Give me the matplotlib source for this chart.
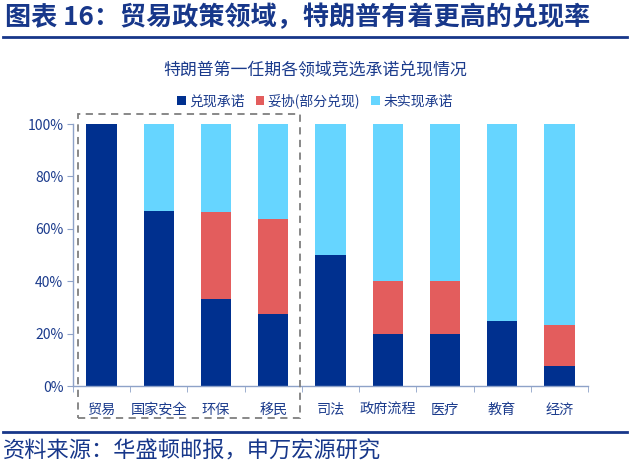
import matplotlib.pyplot as plt
from matplotlib.patches import Rectangle
from matplotlib.lines import Line2D
from matplotlib.ticker import FixedLocator, PercentFormatter
import numpy as np

plt.rcParams['font.family'] = ['Noto Sans CJK SC', 'DejaVu Sans']

categories = ['贸易', '国家安全', '环保', '移民', '司法', '政府流程', '医疗', '教育', '经济']
fulfilled = [100, 66.7, 33.3, 27.3, 50, 20, 20, 25, 7.7]
compromise = [0, 0, 33.3, 36.4, 0, 20, 20, 0, 15.4]
unfulfilled = [0, 33.3, 33.4, 36.3, 50, 60, 60, 75, 76.9]
series_names = ['兑现承诺', '妥协(部分兑现)', '未实现承诺']

navy = '#1B3B8C'
colors = ['#00308F', '#E35D5D', '#66D5FF']
axis_col = '#8EA2C8'

fig = plt.figure(figsize=(6.3, 4.65), dpi=100)
ax = fig.add_axes([73/630, 79/465, 515/630, 262/465])

x = np.arange(len(categories))
f = np.array(fulfilled) / 100
c = np.array(compromise) / 100
u = np.array(unfulfilled) / 100
w = 0.53
ax.bar(x, f, width=w, color=colors[0], label=series_names[0])
ax.bar(x, c, width=w, bottom=f, color=colors[1], label=series_names[1])
ax.bar(x, u, width=w, bottom=f + c, color=colors[2], label=series_names[2])

ax.set_xlim(-0.5, len(categories) - 0.5)
ax.set_ylim(0, 1)
ax.yaxis.set_major_locator(FixedLocator([0, 0.2, 0.4, 0.6, 0.8, 1.0]))
ax.yaxis.set_major_formatter(PercentFormatter(1.0, decimals=0))
ax.set_xticks(x)
ax.set_xticklabels(categories)
ax.xaxis.set_minor_locator(FixedLocator(np.arange(-0.5, len(categories), 1)))
ax.tick_params(axis='x', which='major', length=0, pad=12, labelsize=10.2, labelcolor=navy)
ax.tick_params(axis='x', which='minor', length=4, color=axis_col, direction='out')
ax.tick_params(axis='y', length=4, color=axis_col, labelsize=10, labelcolor=navy, pad=3)
for s in ['top', 'right']:
    ax.spines[s].set_visible(False)
for s in ['left', 'bottom']:
    ax.spines[s].set_color(axis_col)
    ax.spines[s].set_linewidth(1)

# dashed box around trade-related group
box = Rectangle((78/630, 47/465), 222/630, 304/465, transform=fig.transFigure,
                fill=False, edgecolor='#7F7F7F', linestyle=(0, (4, 3)), linewidth=1.3)
fig.add_artist(box)

leg = fig.legend(loc='center', bbox_to_anchor=(0.5, 1 - 101/465), ncol=3, frameon=False,
                 handlelength=0.6, handleheight=0.6, handletextpad=0.25, columnspacing=0.8,
                 fontsize=10)
for t in leg.get_texts():
    t.set_color(navy)

fig.text(0.5, 1 - 70/465, '特朗普第一任期各领域竞选承诺兑现情况', ha='center', va='center',
         fontsize=12.2, color=navy)
fig.text(5/630, 1 - 18/465, '图表 16：贸易政策领域，特朗普有着更高的兑现率', ha='left', va='center',
         fontsize=18.8, fontweight='bold', color='#17378A')
fig.add_artist(Line2D([3/630, 627/630], [1 - 37/465] * 2, transform=fig.transFigure,
                      color='#17378A', linewidth=2))
fig.add_artist(Line2D([3/630, 627/630], [1 - 432/465] * 2, transform=fig.transFigure,
                      color='#17378A', linewidth=2))
fig.text(3/630, 1 - 451/465, '资料来源：华盛顿邮报，申万宏源研究', ha='left', va='center',
         fontsize=16, color='#17378A')

fig.savefig('out.png', dpi=100)
